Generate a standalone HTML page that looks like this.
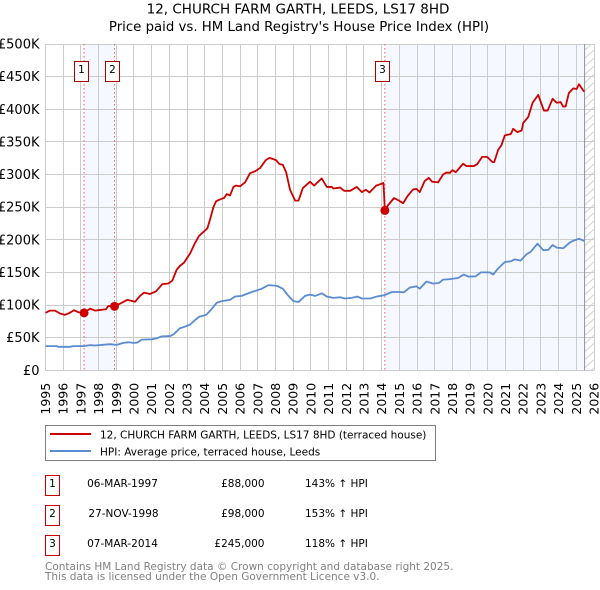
<!DOCTYPE html>
<html>
<head>
<meta charset="utf-8">
<style>
html,body{margin:0;padding:0;background:#fff;}
svg{display:block;}
text{font-family:"DejaVu Sans","Liberation Sans",sans-serif;fill:#000;}
</style>
</head>
<body>
<svg id="chart" xmlns="http://www.w3.org/2000/svg" width="600" height="590" viewBox="0 0 600 590">
<defs>
<pattern id="hatch" patternUnits="userSpaceOnUse" width="9" height="16.3" patternTransform="translate(0,1)">
<line x1="0" y1="16.3" x2="9" y2="8.15" stroke="#cfcfcf" stroke-width="1"/>
<line x1="0" y1="8.15" x2="9" y2="0" stroke="#cfcfcf" stroke-width="1"/>
</pattern>
</defs>
<text x="298" y="13.5" font-size="13.5" text-anchor="middle">12, CHURCH FARM GARTH, LEEDS, LS17 8HD</text>
<text x="299" y="31" font-size="13.3" text-anchor="middle">Price paid vs. HM Land Registry's House Price Index (HPI)</text>
<g id="plot"></g>
<g>
<rect x="45.5" y="425.5" width="390" height="35" fill="#fff" stroke="#808080" stroke-width="1"/>
<line x1="50" y1="434" x2="91" y2="434" stroke="#cc0000" stroke-width="2"/>
<text x="100" y="438.5" font-size="10.5">12, CHURCH FARM GARTH, LEEDS, LS17 8HD (terraced house)</text>
<line x1="50" y1="451" x2="91" y2="451" stroke="#5b8bd0" stroke-width="2"/>
<text x="100" y="455.5" font-size="10.5">HPI: Average price, terraced house, Leeds</text>
</g>
<g>
<rect x="45.5" y="475.5" width="14" height="20" fill="#fff" stroke="#cc0000" stroke-width="1"/>
<text x="52.5" y="487" font-size="10.5" text-anchor="middle">1</text>
<text x="122.5" y="487" font-size="10.5" text-anchor="middle">06-MAR-1997</text>
<text x="264.5" y="487" font-size="10.5" text-anchor="end">£88,000</text>
<text x="305" y="487" font-size="10.5">143% ↑ HPI</text>
<rect x="45.5" y="505.5" width="14" height="20" fill="#fff" stroke="#cc0000" stroke-width="1"/>
<text x="52.5" y="517" font-size="10.5" text-anchor="middle">2</text>
<text x="123.5" y="517" font-size="10.5" text-anchor="middle">27-NOV-1998</text>
<text x="264.5" y="517" font-size="10.5" text-anchor="end">£98,000</text>
<text x="305" y="517" font-size="10.5">153% ↑ HPI</text>
<rect x="45.5" y="535.5" width="14" height="20" fill="#fff" stroke="#cc0000" stroke-width="1"/>
<text x="52.5" y="547" font-size="10.5" text-anchor="middle">3</text>
<text x="122.5" y="547" font-size="10.5" text-anchor="middle">07-MAR-2014</text>
<text x="264.5" y="547" font-size="10.5" text-anchor="end">£245,000</text>
<text x="305" y="547" font-size="10.5">118% ↑ HPI</text>
</g>
<text style="fill:#808080" x="45" y="570" font-size="10.5">Contains HM Land Registry data © Crown copyright and database right 2025.</text>
<text style="fill:#808080" x="45" y="580" font-size="10.5">This data is licensed under the Open Government Licence v3.0.</text>
</svg>
<script>
var yearTicks = [1995,1996,1997,1998,1999,2000,2001,2002,2003,2004,2005,2006,2007,2008,2009,2010,2011,2012,2013,2014,2015,2016,2017,2018,2019,2020,2021,2022,2023,2024,2025,2026];
var valueTicks = [0,50,100,150,200,250,300,350,400,450,500];
var valueTickLabels = ['£0','£50K','£100K','£150K','£200K','£250K','£300K','£350K','£400K','£450K','£500K'];

var priceDates = [1995,1995.25,1995.54,1995.82,1996.1,1996.33,1996.61,1996.86,1997.18,1997.52,1997.8,1998.08,1998.42,1998.55,1998.9,1999.21,1999.63,2000.06,2000.34,2000.57,2000.91,2001.25,2001.6,2001.94,2002.17,2002.41,2002.6,2002.83,2003.17,2003.45,2003.68,2004.15,2004.3,2004.49,2004.64,2004.87,2005.09,2005.24,2005.43,2005.62,2005.77,2006,2006.28,2006.56,2006.85,2007.13,2007.45,2007.66,2008.03,2008.22,2008.41,2008.6,2008.82,2009.11,2009.3,2009.54,2009.95,2010.18,2010.61,2010.9,2011.18,2011.27,2011.65,2011.88,2012.22,2012.59,2012.88,2013.1,2013.31,2013.69,2014.1,2014.18,2014.38,2014.7,2014.98,2015.21,2015.49,2015.77,2015.96,2016.15,2016.43,2016.66,2016.85,2017.19,2017.47,2017.66,2017.85,2018,2018.19,2018.6,2018.79,2019.21,2019.4,2019.68,2019.96,2020.26,2020.36,2020.58,2020.77,2020.96,2021.3,2021.43,2021.66,2021.91,2022,2022.28,2022.53,2022.85,2022.98,2023.17,2023.38,2023.66,2023.89,2024.11,2024.26,2024.4,2024.58,2024.83,2025.02,2025.15,2025.36,2025.45];
var priceValues = [88,91.5,91.5,87,85,87.5,92,89,88,94.5,91.5,92.5,93.5,98.5,98,102,108,105,114,119,117,121,132,133,137.5,154,160,165,179,195,206,217.6,231,250,259,262,264,270,268,281,283,282,288,302,305,310,322,325.5,322,316,315,303.6,276.6,260,260,279,289,283,294,281,281,278.6,280,275,275,281,273,276.6,272.5,283,287,245,253.7,264,260,256,268,277,278,273,290,295,289,288,300,303,302.6,306.7,303.6,316.5,313,313,316,327,327,319,319,337.6,345,360,362,370,365,367.5,379,388,410,422,412,398,398,416,410,411,404,404.5,425,432,431,438.5,430,427];

var hpiDates = [1995,1995.63,1995.73,1996.38,1996.57,1997.14,1997.52,1997.8,1998.65,1999.02,1999.4,1999.68,1999.97,2000.19,2000.44,2001,2001.28,2001.57,2002.04,2002.23,2002.6,2002.89,2003.17,2003.45,2003.68,2004.08,2004.3,2004.68,2004.96,2005.43,2005.71,2006.09,2006.56,2007.22,2007.6,2008.07,2008.41,2008.67,2009.01,2009.3,2009.67,2009.95,2010.24,2010.61,2010.9,2011.27,2011.65,2011.93,2012.31,2012.63,2012.88,2013.35,2013.72,2014.14,2014.57,2014.98,2015.25,2015.58,2015.96,2016.15,2016.53,2016.91,2017.25,2017.47,2017.79,2018.32,2018.64,2018.89,2019.32,2019.6,2020.11,2020.3,2020.58,2020.96,2021.3,2021.53,2021.85,2022.19,2022.42,2022.81,2023.13,2023.42,2023.66,2023.89,2024.26,2024.64,2024.92,2025.17,2025.45];
var hpiValues = [37,37,36,36,37,37,38.5,38,40,39,42,43,42,42.5,47,47.5,49,52,52.5,55,64.5,67,70,77,82,85,91,103.5,106,108,113,114,119,125,130.5,129.5,125,116,106,104.6,114,116,114,118,113,111,112,110,111,113,110,110,113,115,120,120,119.5,126.6,128.7,125,136,132.8,134,139,139.5,141.5,146.7,143.6,144,150,150,146.7,156,166,167,170,168,178,181.5,194,184,184.6,192,188,187,196,199.5,201.5,198];

var saleDates = [1997.18,1998.9,2014.18];
var saleValues = [88,98,245];
var saleLabels = ['1','2','3'];
var dataEndYear = 2025.47;

var NS = 'http://www.w3.org/2000/svg';
var plot = document.getElementById('plot');
var xMin = 1995, xMax = 2026, yMax = 500;
var left = 45.5, right = 594, top_ = 44, bottom = 370.3;
function xScale(year){ return left + (year - xMin) / (xMax - xMin) * (right - left); }
function yScale(v){ return bottom - v / yMax * (bottom - top_); }
function snap(p){ return Math.round(p - 0.5) + 0.5; }
function make(tag, attrs, parent){
  var el = document.createElementNS(NS, tag);
  for (var k in attrs) el.setAttribute(k, attrs[k]);
  (parent || plot).appendChild(el);
  return el;
}

var shade1 = make('rect', {x:xScale(saleDates[0]), y:top_, width:xScale(saleDates[1])-xScale(saleDates[0]), height:bottom-top_, fill:'#f5f8ff'});


var shade2 = make('rect', {x:xScale(saleDates[2]), y:top_, width:xScale(dataEndYear)-xScale(saleDates[2]), height:bottom-top_, fill:'#f5f8ff'});


var hatchRect = make('rect', {x:xScale(dataEndYear), y:top_, width:right-xScale(dataEndYear), height:bottom-top_, fill:'url(#hatch)'});



yearTicks.forEach(function(yr){
  var x = snap(xScale(yr));
  var g = make('line', {x1:x, x2:x, y1:top_, y2:bottom, stroke:'#cccccc', 'stroke-width':1});
  
  
  var t = make('text', {transform:'translate(' + (xScale(yr) + 4.5) + ',' + (bottom + 12.5) + ') rotate(-90)', 'font-size':12.5, 'text-anchor':'end'});
  t.textContent = yr;
  
  
});
valueTicks.forEach(function(v, i){
  var y = snap(yScale(v));
  var g = make('line', {x1:left, x2:right, y1:y, y2:y, stroke:'#cccccc', 'stroke-width':1});
  
  
  var t = make('text', {x:39.5, y:yScale(v) + 4.5, 'font-size':13, 'text-anchor':'end'});
  t.textContent = valueTickLabels[i];
  
  
});

saleDates.forEach(function(d){
  var x = xScale(d);
  var l = make('line', {x1:x, x2:x, y1:top_, y2:bottom, stroke:'#e8606c', 'stroke-width':1, 'stroke-dasharray':'1.5 2.5'});
  
  
});
var endLine = make('line', {x1:xScale(dataEndYear), x2:xScale(dataEndYear), y1:top_, y2:bottom, stroke:'#8a8f96', 'stroke-width':1});



function pathFor(dates, values){
  return dates.map(function(d, i){ return (i ? 'L' : 'M') + xScale(d).toFixed(2) + ' ' + yScale(values[i]).toFixed(2); }).join('');
}
var hpiLine = make('path', {d:pathFor(hpiDates, hpiValues), fill:'none', stroke:'#5b8bd0', 'stroke-width':1.8, 'stroke-linejoin':'round'});


var priceLine = make('path', {d:pathFor(priceDates, priceValues), fill:'none', stroke:'#cc0000', 'stroke-width':1.8, 'stroke-linejoin':'round'});



saleDates.forEach(function(d, i){
  var c = make('circle', {cx:xScale(d), cy:yScale(saleValues[i]), r:4.5, fill:'#cc0000'});
  
  
  var x = xScale(d);
  var b = make('rect', {x:Math.round(x - 10) + 0.5, y:61.5, width:14, height:20, fill:'#fff', stroke:'#aa0000', 'stroke-width':1});
  
  
  var t = make('text', {x:Math.round(x - 10) + 7.5, y:73, 'font-size':10.5, 'text-anchor':'middle'});
  t.textContent = saleLabels[i];
  
  
});
</script>
</body>
</html>
